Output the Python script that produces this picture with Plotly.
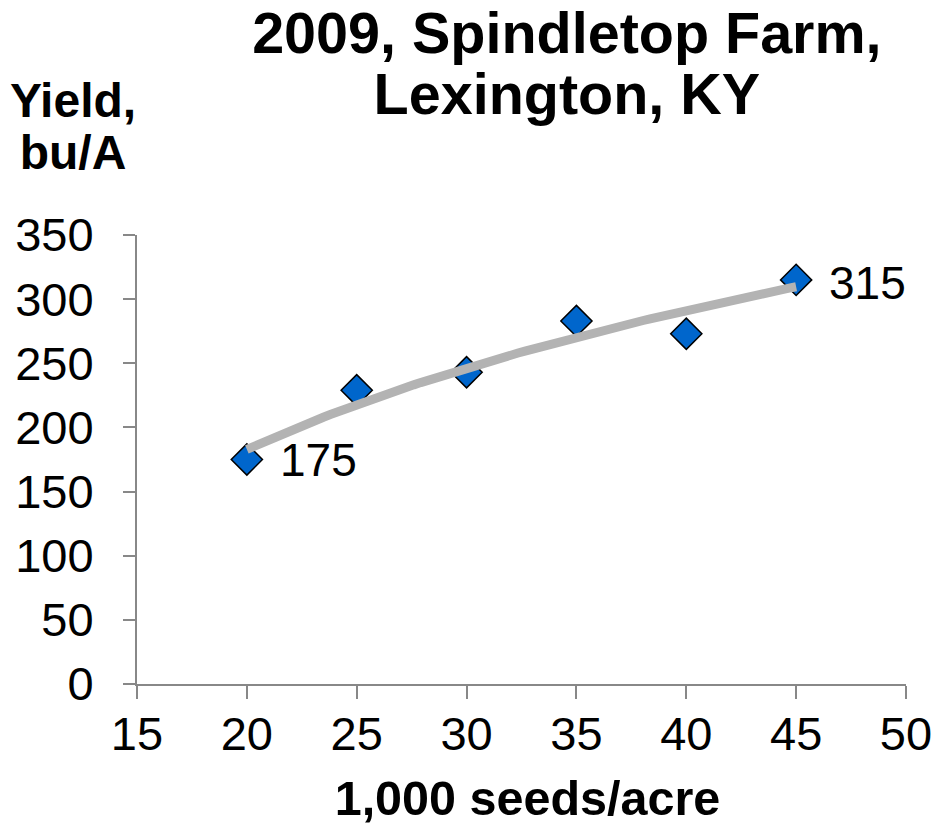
import numpy as np
import plotly.graph_objects as go

seeds = [20, 25, 30, 35, 40, 45]
yields = [175, 229, 243, 283, 273, 315]
x_ticks = [15, 20, 25, 30, 35, 40, 45, 50]
y_ticks = [0, 50, 100, 150, 200, 250, 300, 350]
labelled = {20: "175", 45: "315"}
title_lines = ["2009, Spindletop Farm,", "Lexington, KY"]
ytitle_lines = ["Yield,", "bu/A"]
xtitle = "1,000 seeds/acre"

# logarithmic trendline fitted to the data
b, a = np.polyfit(np.log(seeds), yields, 1)
tx = np.linspace(min(seeds), max(seeds), 80)
ty = a + b * np.log(tx)

FONT = "Liberation Sans, Arial, sans-serif"
BLACK = "#000000"

fig = go.Figure()
fig.add_trace(go.Scatter(
    x=seeds, y=yields, mode="markers",
    marker=dict(symbol="diamond", size=24, color="#0066CC",
                line=dict(color=BLACK, width=1.5)),
    showlegend=False, hoverinfo="skip"))
fig.add_trace(go.Scatter(
    x=tx, y=ty, mode="lines",
    line=dict(color="#B3B3B3", width=9),
    showlegend=False, hoverinfo="skip"))

for xv, yv in zip(seeds, yields):
    if xv in labelled:
        fig.add_annotation(x=xv, y=yv, text=labelled[xv], showarrow=False,
                           xanchor="left", yanchor="middle", xshift=31,
                           yshift=0 if xv == 20 else -3,
                           font=dict(family=FONT, size=46, color=BLACK))


def outside_text(txt, xc, yc, size, half_w):
    # text placed outside the plot area via an invisible paper-referenced shape
    fig.add_shape(type="rect", xref="paper", yref="paper",
                  x0=xc - half_w, x1=xc + half_w, y0=yc - 0.005, y1=yc + 0.005,
                  line=dict(width=0), fillcolor="rgba(0,0,0,0)", layer="above",
                  label=dict(text=txt, textposition="middle center", padding=0,
                             font=dict(family=FONT, size=size, color=BLACK,
                                       weight="bold")))


for txt, yp in zip(title_lines, [1.463, 1.326]):
    outside_text(txt, 0.559, yp, 57.5, 0.45)
for txt, yp in zip(ytitle_lines, [1.311, 1.194]):
    outside_text(txt, -0.0832, yp, 48, 0.085)
outside_text(xtitle, 0.5078, -0.244, 48.5, 0.3)

AX = "#888888"
fig.update_layout(
    width=935, height=827,
    margin=dict(l=137, r=29, t=235, b=143, autoexpand=False),
    paper_bgcolor="white", plot_bgcolor="white",
    xaxis=dict(range=[15, 50], tickvals=x_ticks, ticktext=[str(v) for v in x_ticks],
               showgrid=False, zeroline=False, showline=True, automargin=False,
               linecolor=AX, linewidth=2,
               ticks="outside", ticklen=13, tickcolor=AX, tickwidth=2,
               ticklabelstandoff=-5,
               tickfont=dict(family=FONT, size=47, color=BLACK)),
    yaxis=dict(range=[0, 350], tickvals=y_ticks, ticktext=[str(v) for v in y_ticks],
               showgrid=False, zeroline=False, showline=True, automargin=False,
               linecolor=AX, linewidth=2,
               ticks="outside", ticklen=12, tickcolor=AX, tickwidth=2,
               ticklabelstandoff=20,
               tickfont=dict(family=FONT, size=47, color=BLACK)),
)

fig.write_html("out.html",
               config={"displayModeBar": False, "staticPlot": True},
               post_script="document.body.style.margin='0';document.body.style.overflow='hidden';")
